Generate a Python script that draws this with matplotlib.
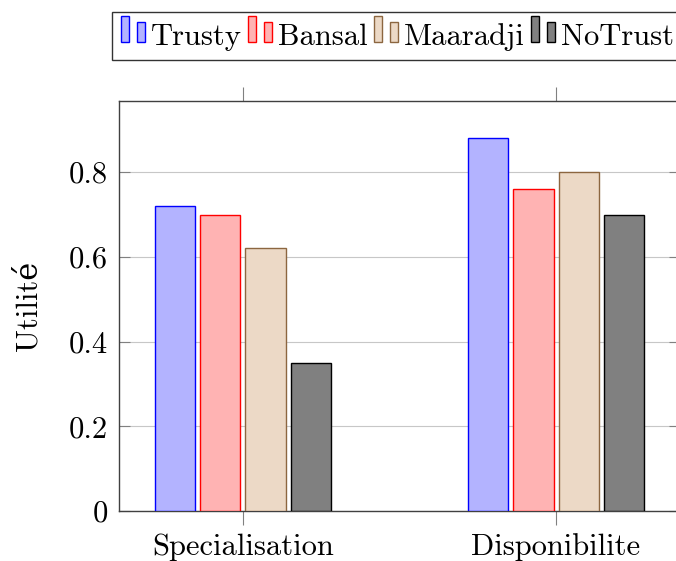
import numpy as np
import matplotlib.pyplot as plt
from matplotlib.patches import Rectangle

plt.rcParams['font.family'] = ['cmr10', 'DejaVu Serif']
plt.rcParams['axes.formatter.use_mathtext'] = True

categories = ['Specialisation', 'Disponibilite']
series = ['Trusty', 'Bansal', 'Maaradji', 'NoTrust']
trusty = [0.72, 0.88]
bansal = [0.70, 0.76]
maaradji = [0.62, 0.80]
notrust = [0.35, 0.70]
yticks = [0, 0.2, 0.4, 0.6, 0.8]
ytick_labels = ['0', '0.2', '0.4', '0.6', '0.8']

values = [trusty, bansal, maaradji, notrust]
fills = [(0.7, 0.7, 1.0), (1.0, 0.7, 0.7), (0.925, 0.85, 0.775), (0.5, 0.5, 0.5)]
edges = ['blue', 'red', (0.55, 0.4, 0.25), 'black']
fs = 22


class TwoBars:
    # pgfplots style legend image: two small bars
    def __init__(self, fc, ec):
        self.fc, self.ec = fc, ec

    def legend_artist(self, legend, orig_handle, fontsize, handlebox):
        x0, y0 = handlebox.xdescent, handlebox.ydescent
        w, h = handlebox.width, handlebox.height
        bw = w * 0.33
        arts = []
        for xs, hh in [(x0, h), (x0 + w * 0.667, h * 0.76)]:
            r = Rectangle((xs, y0), bw, hh, facecolor=self.fc, edgecolor=self.ec,
                          lw=1.0, transform=handlebox.get_transform())
            handlebox.add_artist(r)
            arts.append(r)
        return arts[0]


fig = plt.figure(figsize=(6.76, 5.61), dpi=100)
ax = fig.add_axes([119 / 676, 1 - 511 / 561, 561 / 676, 410 / 561])

x = np.arange(len(categories))
width = 0.128
step = 0.144
handles = []
for i, (vals, fc, ec) in enumerate(zip(values, fills, edges)):
    b = ax.bar(x + (i - 1.5) * step, vals, width, color=fc, edgecolor=ec,
               linewidth=1.0, label=series[i], zorder=3)
    handles.append(b[0])

ax.set_xlim(-0.396, 1.396)
ax.set_ylim(0, 0.968)
ax.set_xticks(x)
ax.set_xticklabels(categories, fontsize=fs)
ax.set_yticks(yticks)
ax.set_yticklabels(ytick_labels, fontsize=fs)
ax.set_ylabel('Utilité', fontsize=fs, labelpad=19)

ax.yaxis.grid(True, color=(0.78, 0.78, 0.78), lw=0.8, zorder=0)
ax.tick_params(axis='y', direction='in', length=8, color='gray', right=True, pad=8)
ax.tick_params(axis='x', direction='out', length=10, color='gray', top=True, pad=6)
for s in ax.spines.values():
    s.set_color((0.25, 0.25, 0.25))
    s.set_linewidth(1.0)

hmap = {h: TwoBars(fc, ec) for h, fc, ec in zip(handles, fills, edges)}
leg = fig.legend(handles, series, loc='lower center', ncol=4,
                 bbox_to_anchor=((119 + 680) / 2 / 676 - 0.003, 1 - 60 / 561),
                 handler_map=hmap, fontsize=fs, frameon=True, fancybox=False,
                 edgecolor='black', handlelength=0.78, handleheight=0.95,
                 handletextpad=0.2, columnspacing=0.2, borderpad=0.3,
                 borderaxespad=0)
leg.get_frame().set_linewidth(1.0)

fig.savefig('out.png', dpi=100)
